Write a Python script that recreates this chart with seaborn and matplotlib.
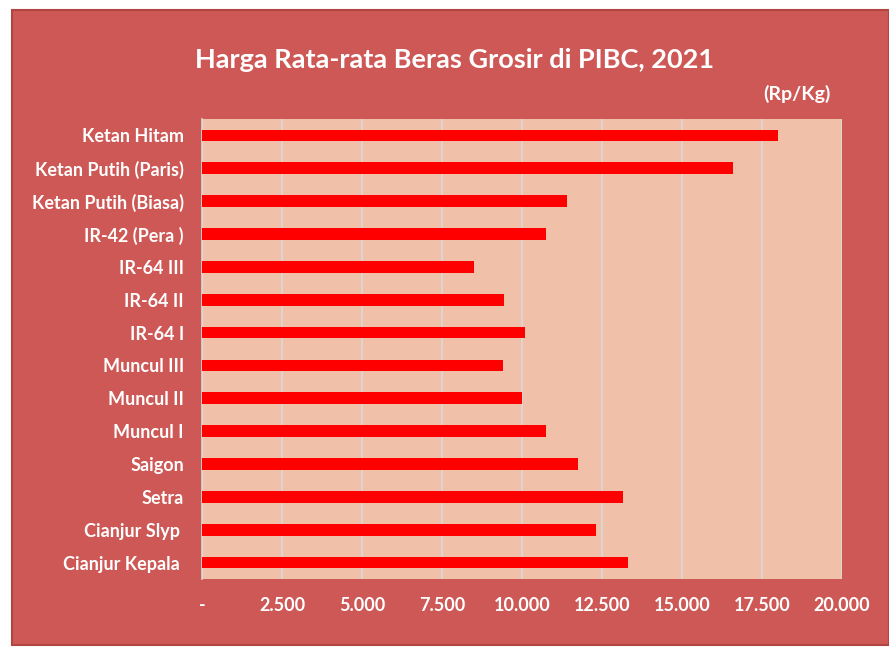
import matplotlib
matplotlib.use("Agg")
import matplotlib.pyplot as plt
from matplotlib.patches import Rectangle
from matplotlib.ticker import FuncFormatter
import seaborn as sns
import pandas as pd

# Data
varieties = [
    "Ketan Hitam", "Ketan Putih (Paris)", "Ketan Putih (Biasa)", "IR-42 (Pera )",
    "IR-64 III", "IR-64 II", "IR-64 I", "Muncul III", "Muncul II", "Muncul I",
    "Saigon", "Setra", "Cianjur Slyp ", "Cianjur Kepala ",
]
prices = [18000, 16600, 11400, 10750, 8500, 9450, 10100, 9400, 10000, 10750,
          11750, 13150, 12300, 13300]
x_ticks = [0, 2500, 5000, 7500, 10000, 12500, 15000, 17500, 20000]

panel_red = "#CD5855"
plot_bg = "#F0C0A8"
bar_red = "#FF0000"

df = pd.DataFrame({"variety": varieties, "price": prices})

sns.set_style("white")
plt.rcParams["font.family"] = ["Lato", "DejaVu Sans"]

fig = plt.figure(figsize=(8.89, 6.49), dpi=100)
fig.patch.set_facecolor("white")
W, H = 889, 649
# red panel behind the chart
fig.patches.append(Rectangle((12 / W, 4 / H), (W - 12) / W, (H - 14) / H,
                             transform=fig.transFigure, facecolor=panel_red,
                             edgecolor="#B04542", linewidth=1.5, zorder=-5))

ax = fig.add_axes([202 / W, 1 - 579 / H, 640 / W, 460 / H])
ax.set_zorder(2)
ax.set_facecolor(plot_bg)
sns.barplot(data=df, x="price", y="variety", orient="h", color=bar_red,
            width=0.36, saturation=1, linewidth=0, ax=ax, zorder=3)

ax.set_xlim(0, 20000)
ax.set_xticks(x_ticks)
ax.xaxis.set_major_formatter(FuncFormatter(
    lambda v, p: "-" if v == 0 else f"{int(v):,}".replace(",", ".")))
ax.grid(axis="x", color="#D9D9D9", linewidth=1.2, zorder=0)
ax.set_axisbelow(True)
for s in ax.spines.values():
    s.set_visible(False)
ax.spines["left"].set_visible(True)
ax.spines["left"].set_color("#D9D9D9")
ax.spines["left"].set_linewidth(1.2)
ax.set_xlabel("")
ax.set_ylabel("")
ax.tick_params(axis="both", length=0, colors="white")
ax.tick_params(axis="x", pad=13, labelsize=13)
ax.tick_params(axis="y", pad=13, labelsize=13)
for lab in ax.get_xticklabels() + ax.get_yticklabels():
    lab.set_fontweight("bold")
    lab.set_color("white")

fig.text(455 / W, 1 - 60 / H, "Harga Rata-rata Beras Grosir di PIBC, 2021",
         ha="center", va="center", color="white", fontsize=19.5, fontweight="bold",
         zorder=3)
fig.text(797 / W, 1 - 94 / H, "(Rp/Kg)", ha="center", va="center",
         color="white", fontsize=14, fontweight="bold", zorder=3)

fig.savefig("out.png", dpi=100, facecolor=fig.get_facecolor())
